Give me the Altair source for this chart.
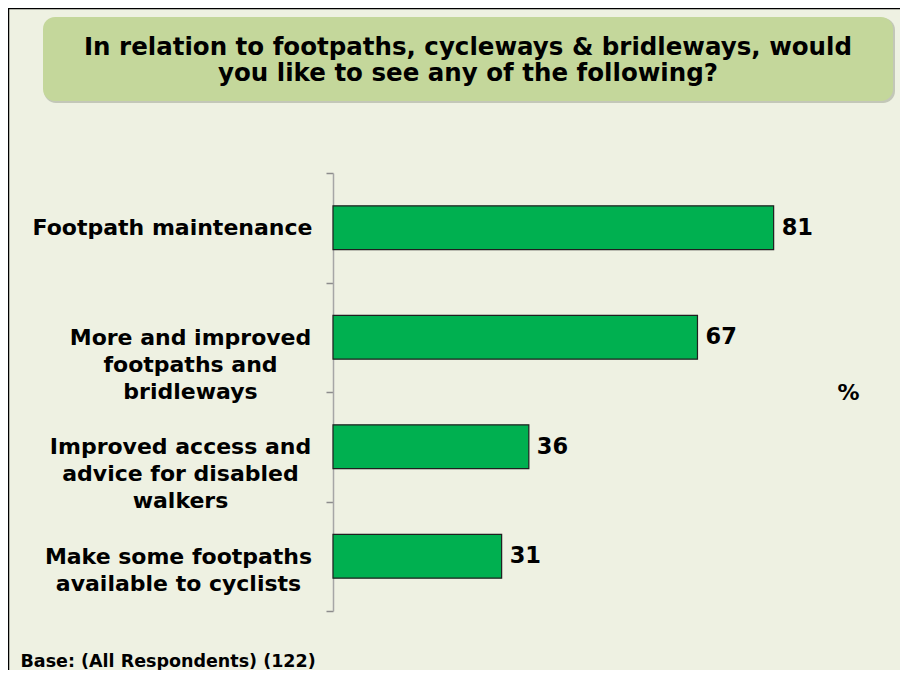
import altair as alt
import pandas as pd

categories = [
    "Footpath maintenance",
    "More and improved|footpaths and|bridleways",
    "Improved access and|advice for disabled|walkers",
    "Make some footpaths|available to cyclists",
]
values = [81, 67, 36, 31]

title_lines = [
    "In relation to footpaths, cycleways & bridleways, would",
    "you like to see any of the following?",
]
base_note = "Base: (All Respondents) (122)"
unit_label = "%"

df = pd.DataFrame({"category": categories, "value": values})

FONT = "DejaVu Sans"
BG = "#EEF1E2"

W, H = 544, 438

one = alt.Data(values=[{"k": 0}])

frame_left = alt.Chart(one).mark_rule(color="black", strokeWidth=1.5).encode(
    x=alt.value(-324.5), x2=alt.value(-324.5), y=alt.value(-165), y2=alt.value(H + 60)
)
frame_top = alt.Chart(one).mark_rule(color="black", strokeWidth=1.5).encode(
    x=alt.value(-324.5), x2=alt.value(W + 30), y=alt.value(-164.5), y2=alt.value(-164.5)
)
shadow = alt.Chart(one).mark_rect(cornerRadius=12, color="#8f9486", opacity=0.45).encode(
    x=alt.value(-289), x2=alt.value(562), y=alt.value(-155), y2=alt.value(-70)
)
box = alt.Chart(one).mark_rect(cornerRadius=12, color="#C4D79B").encode(
    x=alt.value(-290), x2=alt.value(560), y=alt.value(-156), y2=alt.value(-72)
)
title_text = alt.Chart(one).mark_text(
    align="center", baseline="alphabetic", font=FONT, fontSize=24.5, fontWeight="bold",
    color="black", lineHeight=26,
).encode(x=alt.value(135), y=alt.value(-118.5), text=alt.value(title_lines))

pad_cond = [
    {"test": f"datum.value === '{categories[1]}'", "value": 136},
    {"test": f"datum.value === '{categories[2]}'", "value": 146},
    {"test": f"datum.value === '{categories[3]}'", "value": 148},
]

y_enc = alt.Y(
    "category:N",
    sort=categories,
    scale=alt.Scale(paddingInner=0, paddingOuter=0),
    axis=alt.Axis(
        title=unit_label,
        titleAngle=0,
        titleX=515,
        titleY=219,
        titleAlign="center",
        titleBaseline="middle",
        titleFont=FONT,
        titleFontSize=22,
        titleFontWeight="bold",
        titleColor="black",
        labelExpr="split(datum.label, '|')",
        labelAlign="center",
        labelBaseline="middle",
        labelPadding={"condition": pad_cond, "value": 154},
        labelFont=FONT,
        labelFontSize=22,
        labelFontWeight="bold",
        labelColor="black",
        labelLineHeight=27,
        labelLimit=400,
        tickBand="extent",
        tickSize=7,
        tickColor="#8c8c8c",
        tickWidth=1.5,
        domainColor="#a6a6a6",
        domainWidth=1.5,
    ),
)

x_enc = alt.X(
    "value:Q",
    scale=alt.Scale(domain=[0, 100]),
    axis=alt.Axis(
        title=base_note,
        labels=False,
        ticks=False,
        domain=False,
        grid=False,
        titleX=-313,
        titleY=50,
        titleAlign="left",
        titleBaseline="middle",
        titleFont=FONT,
        titleFontSize=17.5,
        titleFontWeight="bold",
        titleColor="black",
    ),
)

bars = alt.Chart(df).mark_bar(
    color="#00B050", stroke="#1f1f1f", strokeWidth=1.2, height={"band": 0.4}
).encode(y=y_enc, x=x_enc)

labels = alt.Chart(df).mark_text(
    align="left", baseline="middle", dx=8, font=FONT, fontSize=22.5, fontWeight="bold", color="black"
).encode(y=alt.Y("category:N", sort=categories), x="value:Q", text="value:Q")

chart = (
    alt.layer(frame_left, frame_top, shadow, box, title_text, bars, labels)
    .properties(
        width=W,
        height=H,
        padding={"left": 325, "top": 165, "right": 23, "bottom": 59},
        autosize=alt.AutoSizeParams(type="none"),
    )
    .configure(background=BG)
    .configure_view(strokeWidth=0)
)

chart.save("out.html", embed_options={"renderer": "svg", "actions": False})
